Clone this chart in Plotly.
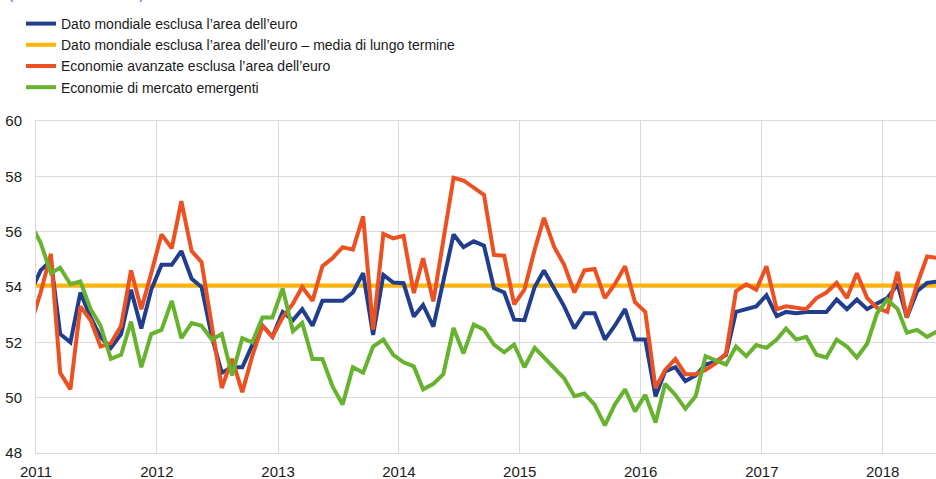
import pandas as pd
import plotly.graph_objects as go

# Monthly observations, mid-month, Dec 2010 .. Jun 2018
months = pd.date_range("2010-12-01", "2018-06-01", freq="MS") + pd.Timedelta(days=14)

world_ex_ea = [
    53.8, 54.6, 54.95, 52.3, 52.0, 53.8, 52.9, 52.2, 51.8, 52.3, 53.9, 52.5, 53.9,
    54.8, 54.8, 55.3, 54.3, 54.0, 52.2, 50.9, 51.1, 51.1, 51.9, 52.6, 52.2,
    53.1, 52.8, 53.2, 52.6, 53.5, 53.5, 53.5, 53.8, 54.5, 52.27, 54.44, 54.16,
    54.14, 52.93, 53.35, 52.57, 54.2, 55.9, 55.44, 55.65, 55.49, 53.96, 53.8, 52.82,
    52.8, 54.0, 54.6, 53.95, 53.3, 52.5, 53.05, 53.05, 52.1, 52.6, 53.2, 52.1,
    52.1, 50.05, 50.95, 51.1, 50.6, 50.8, 51.2, 51.3, 51.55, 53.1, 53.2, 53.3,
    53.7, 52.95, 53.1, 53.05, 53.1, 53.1, 53.1, 53.55, 53.2, 53.55, 53.2, 53.4,
    53.6, 54.1, 52.9, 53.85, 54.15, 54.2,
]
advanced_ex_ea = [
    52.6, 53.8, 55.2, 50.9, 50.3, 53.3, 52.8, 51.85, 51.97, 52.6, 54.6, 53.2, 54.5,
    55.9, 55.4, 57.1, 55.3, 54.9, 52.6, 50.35, 51.4, 50.2, 51.5, 52.6, 52.2,
    52.9, 53.4, 54.0, 53.5, 54.75, 55.05, 55.44, 55.35, 56.55, 52.46, 55.92, 55.76,
    55.85, 53.78, 55.04, 53.48, 55.7, 57.95, 57.85, 57.6, 57.33, 55.16, 55.13, 53.37,
    53.9, 55.35, 56.5, 55.45, 54.8, 53.8, 54.6, 54.65, 53.6, 54.1, 54.75, 53.45,
    53.1, 50.35, 51.0, 51.4, 50.85, 50.85, 51.0, 51.25, 51.6, 53.85, 54.1, 53.9,
    54.75, 53.2, 53.3, 53.25, 53.2, 53.6, 53.8, 54.15, 53.6, 54.5, 53.6, 53.25,
    53.1, 54.55, 52.9, 54.1, 55.1, 55.05,
]
emerging = [
    56.3, 55.6, 54.5, 54.7, 54.1, 54.2, 53.2, 52.6, 51.4, 51.55, 52.75, 51.1, 52.3,
    52.45, 53.5, 52.15, 52.7, 52.6, 52.1, 52.3, 50.8, 52.15, 52.0, 52.9, 52.9,
    53.95, 52.4, 52.7, 51.4, 51.4, 50.4, 49.75, 51.1, 50.9, 51.85, 52.1, 51.55,
    51.28, 51.13, 50.3, 50.5, 50.85, 52.52, 51.6, 52.64, 52.46, 51.92, 51.64, 51.92,
    51.1, 51.8, 51.45, 51.1, 50.7, 50.05, 50.15, 49.75, 49.0, 49.75, 50.3, 49.5,
    50.1, 49.1, 50.5, 50.1, 49.6, 50.05, 51.5, 51.35, 51.2, 51.85, 51.5, 51.9,
    51.8, 52.1, 52.5, 52.1, 52.2, 51.55, 51.45, 52.1, 51.85, 51.45, 51.95, 53.05,
    53.55, 53.2, 52.35, 52.45, 52.2, 52.4,
]
long_term_mean = 54.05

assert len(months) == len(world_ex_ea) == len(advanced_ex_ea) == len(emerging)

names = [
    "Dato mondiale esclusa l’area dell’euro",
    "Dato mondiale esclusa l’area dell’euro – media di lungo termine",
    "Economie avanzate esclusa l’area dell’euro",
    "Economie di mercato emergenti",
]
colors = ["#213e8e", "#ffb400", "#ec5122", "#67b22f"]
LW = 4

fig = go.Figure()
fig.add_trace(go.Scatter(x=[months[0], months[-1]], y=[long_term_mean, long_term_mean],
                         mode="lines", name=names[1], legendrank=2,
                         line=dict(color=colors[1], width=LW)))
fig.add_trace(go.Scatter(x=months, y=world_ex_ea, mode="lines", name=names[0], legendrank=1,
                         line=dict(color=colors[0], width=LW)))
fig.add_trace(go.Scatter(x=months, y=advanced_ex_ea, mode="lines", name=names[2], legendrank=3,
                         line=dict(color=colors[2], width=LW)))
fig.add_trace(go.Scatter(x=months, y=emerging, mode="lines", name=names[3], legendrank=4,
                         line=dict(color=colors[3], width=LW)))

grid = "#d9d9d9"
fig.update_layout(
    width=936, height=479,
    margin=dict(l=36, r=0, t=121, b=26, autoexpand=False),
    paper_bgcolor="white", plot_bgcolor="white",
    font=dict(family="Liberation Sans, Arial, sans-serif", size=15, color="#1a1a1a"),
    showlegend=True,
    legend=dict(
        xref="container", yref="container",
        x=21 / 936, y=1 - 8 / 479, xanchor="left", yanchor="top",
        font=dict(size=14, color="#1a1a1a"),
        bgcolor="rgba(0,0,0,0)", traceorder="normal",
        tracegroupgap=0,
    ),
    xaxis=dict(
        type="date", range=["2011-01-01", "2018-06-11"],
        tick0="2011-01-01", dtick="M12", tickformat="%Y",
        showgrid=True, gridcolor=grid, gridwidth=1,
        showline=True, linecolor=grid, linewidth=1, mirror=True,
        ticks="", ticklabelstandoff=5, zeroline=False,
    ),
    yaxis=dict(
        range=[48, 60], dtick=2, tick0=48,
        showgrid=True, gridcolor=grid, gridwidth=1,
        showline=True, linecolor=grid, linewidth=1,
        ticks="", ticklabelstandoff=10, zeroline=False,
    ),
    annotations=[dict(
        text="(indici di diffusione)", xref="paper", yref="paper",
        x=(6 - 36) / 900, y=(453 - 4) / 332, xanchor="left", yanchor="bottom",
        showarrow=False, font=dict(size=16, color="#4a6db5"),
    )],
)

fig.write_html("out.html", config={"displayModeBar": False},
               post_script="document.body.style.margin='0';")
